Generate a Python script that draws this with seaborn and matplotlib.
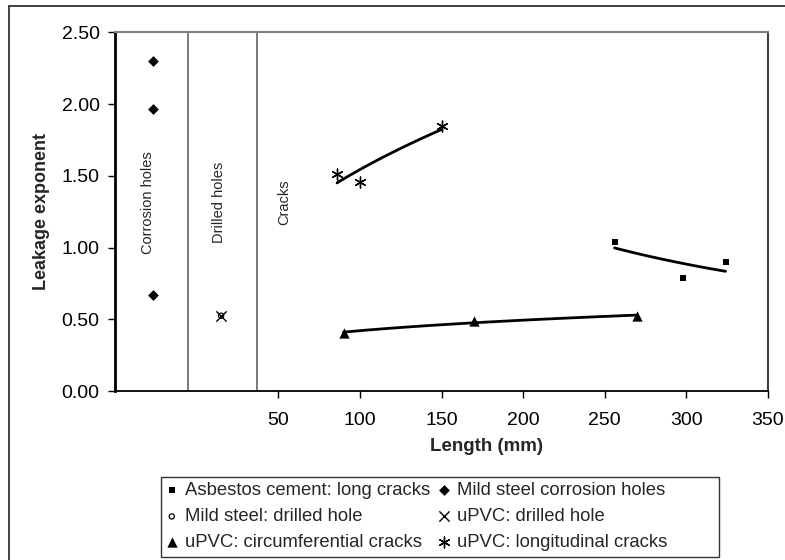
import numpy as np
import pandas as pd
import matplotlib
matplotlib.use("Agg")
import matplotlib.pyplot as plt
from matplotlib.lines import Line2D
from matplotlib.patches import Rectangle
import seaborn as sns

# ---------------- data ----------------
asb_x = [256, 298, 324]
asb_y = [1.04, 0.79, 0.90]
cor_x = [-27, -27, -27]
cor_y = [2.30, 1.965, 0.67]
msd_x = [15]
msd_y = [0.525]
upd_x = [15]
upd_y = [0.525]
circ_x = [90, 170, 270]
circ_y = [0.405, 0.49, 0.52]
lon_x = [86, 100, 150]
lon_y = [1.51, 1.46, 1.85]

labels = ["Asbestos cement: long cracks", "Mild steel corrosion holes",
          "Mild steel: drilled hole", "uPVC: drilled hole",
          "uPVC: circumferential cracks", "uPVC: longitudinal cracks"]
region_labels = ["Corrosion holes", "Drilled holes", "Cracks"]
region_x = [-30, 13.5, 53.5]
divider_x = [-5, 37]
x_ticks = [50, 100, 150, 200, 250, 300, 350]
y_ticks = [0.0, 0.5, 1.0, 1.5, 2.0, 2.5]

sns.set_theme(style="white")
plt.rcParams['font.family'] = ['Liberation Sans', 'DejaVu Sans']

W, H = 785, 560
fig = plt.figure(figsize=(W/100, H/100), dpi=100)
ax = fig.add_axes([115/W, 1-391/H, (768-115)/W, (391-32.3)/H])

# scatter series
sns.scatterplot(x=asb_x, y=asb_y, marker='s', s=24, color='black', edgecolor='black',
                linewidth=0, label=labels[0], ax=ax, zorder=5)
sns.scatterplot(x=cor_x, y=cor_y, marker='D', s=30, color='black', edgecolor='black',
                linewidth=0, label=labels[1], ax=ax, zorder=5)
sns.scatterplot(x=msd_x, y=msd_y, marker='o', s=14, facecolor='none', edgecolor='black',
                linewidth=0.9, label=labels[2], ax=ax, zorder=5)
sns.scatterplot(x=upd_x, y=upd_y, marker='x', s=55, color='black',
                linewidth=1.0, label=labels[3], ax=ax, zorder=5)
sns.scatterplot(x=circ_x, y=circ_y, marker='^', s=55, color='black', edgecolor='black',
                linewidth=0, label=labels[4], ax=ax, zorder=5)
sns.scatterplot(x=lon_x, y=lon_y, marker=(6, 2, 0), s=60, color='black',
                linewidth=1.0, label=labels[5], ax=ax, zorder=5)

# power trendlines fitted to the data
def power_fit(xs, ys):
    xs = np.asarray(xs, float); ys = np.asarray(ys, float)
    b, lna = np.polyfit(np.log(xs), np.log(ys), 1)
    xx = np.linspace(xs.min(), xs.max(), 60)
    return xx, np.exp(lna) * xx ** b

for xs, ys in [(asb_x, asb_y), (circ_x, circ_y), (lon_x, lon_y)]:
    xx, yy = power_fit(xs, ys)
    sns.lineplot(x=xx, y=yy, color='black', linewidth=2, legend=False, ax=ax, zorder=4)

for xv in divider_x:
    ax.axvline(xv, color='#707070', linewidth=1.3, zorder=1)

for txt, xv in zip(region_labels, region_x):
    ax.text(xv, 1.316, txt, rotation=90, ha='center', va='center', fontsize=10.5)

ax.set_xlim(-50, 350)
ax.set_ylim(0, 2.5)
ax.set_xticks(x_ticks)
ax.set_xticklabels([str(t) for t in x_ticks])
ax.set_yticks(y_ticks)
ax.set_yticklabels([f"{t:.2f}" for t in y_ticks])
ax.tick_params(axis='both', which='major', labelsize=14, colors='black')
ax.tick_params(axis='x', direction='out', length=5, width=1, pad=10, bottom=True)
ax.tick_params(axis='y', direction='out', length=5, width=1, pad=6, left=True)

ax.set_xlabel("Length (mm)", fontsize=13.5, fontweight='bold')
ax.set_ylabel("Leakage exponent", fontsize=13, fontweight='bold')
ax.xaxis.set_label_coords(0.569, -0.155)
ax.xaxis.label.set_va('center')
ax.yaxis.set_label_coords(-0.112, 0.5)
ax.yaxis.label.set_va('center')

ax.spines['left'].set_color('black'); ax.spines['left'].set_linewidth(2)
ax.spines['bottom'].set_color('black'); ax.spines['bottom'].set_linewidth(1.3)
ax.spines['top'].set_color('#808080'); ax.spines['top'].set_linewidth(1.5)
ax.spines['right'].set_color('#404040'); ax.spines['right'].set_linewidth(1.5)
for sp in ax.spines.values():
    sp.set_visible(True)

# legend
h, l = ax.get_legend_handles_labels()
ax.get_legend().remove()
order = [0, 2, 4, 1, 3, 5]
leg = fig.legend([h[i] for i in order], [l[i] for i in order], ncol=2,
                 loc='upper left', bbox_to_anchor=(160.7/W, 1-476.7/H),
                 frameon=False, fontsize=13.3,
                 handlelength=0.6, handletextpad=0.4, columnspacing=0.45,
                 labelspacing=0.49, borderpad=0.3, borderaxespad=0)
fig.add_artist(Rectangle((160.7/W, 1-557/H), (719.3-160.7)/W, (557-476.7)/H,
                         transform=fig.transFigure, fill=False,
                         edgecolor='#333333', linewidth=1.0))

# outer border (left and top edges visible)
fig.add_artist(Line2D([9/W, 9/W], [0, 1-6/H], color='#333333', lw=1.3,
                      transform=fig.transFigure))
fig.add_artist(Line2D([9/W, 1], [1-6/H, 1-6/H], color='#333333', lw=1.3,
                      transform=fig.transFigure))

fig.savefig("out.png", dpi=100, facecolor='white')
